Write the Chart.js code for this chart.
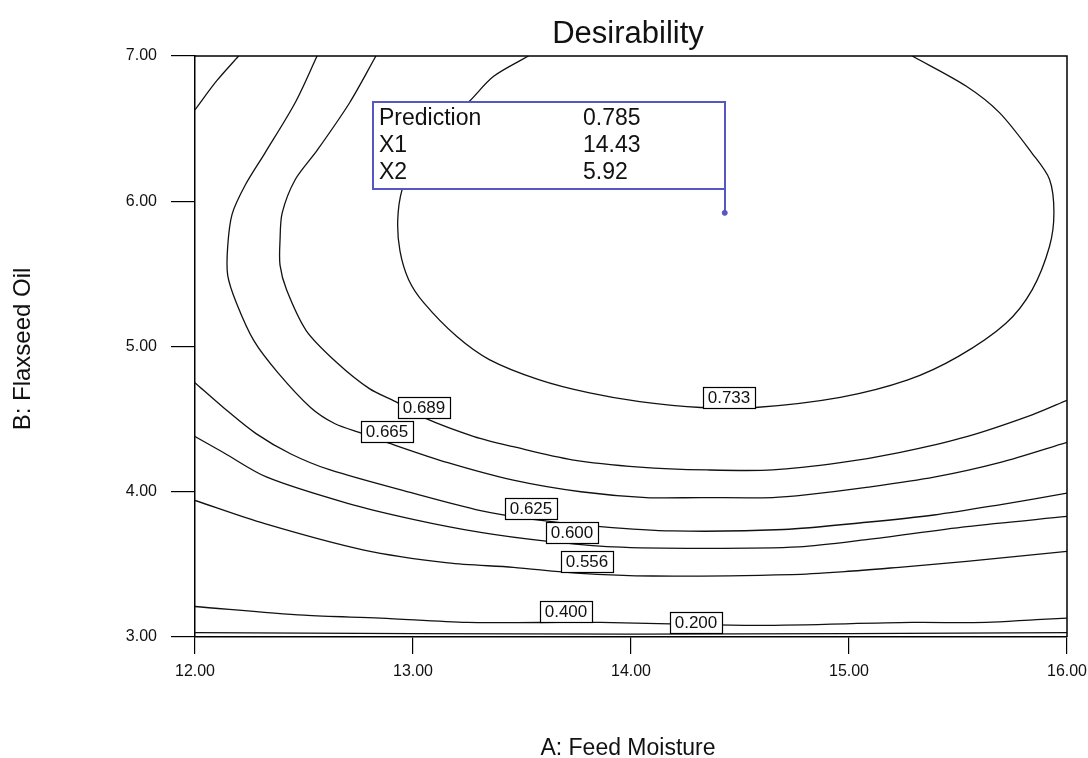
<!DOCTYPE html>
<html>
<head>
<meta charset="utf-8">
<title>Desirability</title>
<script src="https://cdn.jsdelivr.net/npm/chart.js@4.4.1/dist/chart.umd.min.js"></script>
<style>
  body { margin: 0; background: #fff; }
  canvas { display: block; }
</style>
</head>
<body>
<canvas id="chart" width="1088" height="758"></canvas>
<script>
// ------------------ values ------------------
const xTicks = [12, 13, 14, 15, 16];
const yTicks = [3, 4, 5, 6, 7];

// each contour is a path of [A: Feed Moisture, B: Flaxseed Oil] points
const contour733 = [[13.53,7.00],[13.37,6.86],[13.26,6.69],[13.12,6.49],[13.01,6.28],[12.95,6.08],[12.93,5.87],[12.94,5.66],[12.98,5.46],[13.05,5.30],[13.20,5.07],[13.35,4.91],[13.58,4.77],[13.81,4.68],[14.04,4.62],[14.32,4.58],[14.57,4.58],[14.96,4.65],[15.27,4.77],[15.50,4.93],[15.72,5.16],[15.84,5.39],[15.92,5.69],[15.94,5.92],[15.92,6.15],[15.84,6.33],[15.69,6.61],[15.54,6.79],[15.29,7.00]];
const contour689 = [[12.83,7.00],[12.71,6.68],[12.56,6.35],[12.46,6.15],[12.40,5.92],[12.39,5.73],[12.39,5.56],[12.42,5.39],[12.51,5.11],[12.65,4.89],[12.80,4.71],[12.92,4.62],[13.05,4.51],[13.28,4.38],[13.46,4.31],[13.73,4.22],[14.04,4.17],[14.35,4.15],[14.65,4.15],[14.96,4.20],[15.23,4.27],[15.54,4.38],[15.84,4.53],[16.00,4.63]];
const contour665 = [[12.56,7.00],[12.46,6.68],[12.32,6.33],[12.23,6.11],[12.17,5.91],[12.15,5.69],[12.15,5.49],[12.19,5.30],[12.27,5.04],[12.38,4.82],[12.53,4.58],[12.64,4.47],[12.77,4.40],[12.88,4.34],[13.16,4.20],[13.46,4.08],[13.77,4.00],[14.07,3.96],[14.32,3.96],[14.65,3.96],[14.81,3.98],[15.08,4.03],[15.39,4.10],[15.69,4.20],[16.00,4.34]];
const contour625 = [[12.00,4.75],[12.13,4.58],[12.28,4.40],[12.44,4.26],[12.62,4.15],[13.00,3.99],[13.31,3.87],[13.55,3.81],[13.86,3.76],[14.19,3.73],[14.70,3.74],[15.08,3.79],[15.39,3.84],[15.69,3.91],[16.00,3.99]];
const contour625Corner = [[12.20,7.00],[12.10,6.83],[12.00,6.63]];
const contour600 = [[12.00,4.38],[12.13,4.27],[12.33,4.10],[12.70,3.92],[13.00,3.81],[13.31,3.72],[13.61,3.66],[13.92,3.62],[14.32,3.61],[14.77,3.62],[15.08,3.67],[15.54,3.76],[16.00,3.83]];
const contour556 = [[12.00,3.94],[12.32,3.78],[12.77,3.60],[13.16,3.51],[13.46,3.48],[13.75,3.44],[14.10,3.42],[14.74,3.43],[14.98,3.45],[15.23,3.48],[15.54,3.52],[16.00,3.59]];
const contour400 = [[12.00,3.21],[12.50,3.15],[12.85,3.13],[13.25,3.10],[13.58,3.10],[13.86,3.10],[14.18,3.09],[14.59,3.08],[15.29,3.10],[15.63,3.10],[15.86,3.12],[16.00,3.13]];
const contour200 = [[12.00,3.03],[14.00,3.02],[16.00,3.03]];

// contour labels and the point on the line each one sits on
const labelLevels = ['0.733', '0.689', '0.665', '0.625', '0.600', '0.556', '0.400', '0.200'];
const labelAnchors = [[14.45,4.58],[13.05,4.51],[12.88,4.34],[13.54,3.81],[13.73,3.65],[13.80,3.45],[13.70,3.10],[14.30,3.03]];

// optimum flag
const predictionPoint = [14.43, 5.92];
const predictionNames = ['Prediction', 'X1', 'X2'];
const predictionValues = ['0.785', '14.43', '5.92'];

const FONT = 'Arial, "Liberation Sans", sans-serif';
const flagColor = '#5656c4';

function toXY(path) {
  return path.map(p => ({ x: p[0], y: p[1] }));
}

const contourPaths = [contour733, contour689, contour665, contour625, contour625Corner, contour600, contour556, contour400, contour200];

const datasets = contourPaths.map(path => ({
  data: toXY(path),
  showLine: true,
  borderColor: '#111',
  borderWidth: 1.3,
  pointRadius: 0,
  tension: 0.3,
  fill: false
}));
datasets.push({
  data: [{ x: predictionPoint[0], y: predictionPoint[1] }],
  showLine: false,
  pointRadius: 2.5,
  pointBackgroundColor: flagColor,
  pointBorderColor: flagColor
});

// ------------------ plugins ------------------
const frameAndTitles = {
  id: 'frameAndTitles',
  afterDraw(chart) {
    const { ctx, chartArea: a } = chart;
    ctx.save();
    // top and right frame
    ctx.strokeStyle = '#000';
    ctx.lineWidth = 1.5;
    ctx.beginPath();
    ctx.moveTo(a.left, a.top);
    ctx.lineTo(a.right, a.top);
    ctx.lineTo(a.right, a.bottom);
    ctx.stroke();

    ctx.fillStyle = '#111';
    ctx.textAlign = 'center';
    ctx.textBaseline = 'alphabetic';
    ctx.font = '31px ' + FONT;
    ctx.fillText('Desirability', 628, 43);
    ctx.font = '23px ' + FONT;
    ctx.fillText('A: Feed Moisture', 628, 755);
    ctx.translate(30, 349);
    ctx.rotate(-Math.PI / 2);
    ctx.font = '24px ' + FONT;
    ctx.fillText('B: Flaxseed Oil', 0, 0);
    ctx.restore();
  }
};

const contourLabels = {
  id: 'contourLabels',
  afterDatasetsDraw(chart) {
    const { ctx, scales: { x, y } } = chart;
    const w = 52, h = 21;
    ctx.save();
    ctx.font = '17px ' + FONT;
    ctx.textAlign = 'center';
    ctx.textBaseline = 'middle';
    labelLevels.forEach((txt, i) => {
      const px = Math.round(x.getPixelForValue(labelAnchors[i][0]));
      const py = Math.round(y.getPixelForValue(labelAnchors[i][1]));
      ctx.fillStyle = '#fff';
      ctx.fillRect(px - w / 2, py - h, w, h);
      ctx.strokeStyle = '#000';
      ctx.lineWidth = 1.2;
      ctx.strokeRect(px - w / 2 + 0.5, py - h + 0.5, w, h);
      ctx.fillStyle = '#111';
      ctx.fillText(txt, px, py - h / 2 + 1);
    });
    ctx.restore();
  }
};

const predictionFlag = {
  id: 'predictionFlag',
  afterDatasetsDraw(chart) {
    const { ctx, scales: { x, y } } = chart;
    const px = Math.round(x.getPixelForValue(predictionPoint[0]));
    const py = Math.round(y.getPixelForValue(predictionPoint[1]));
    const w = 352, h = 87, gap = 24;
    const left = px - w, top = py - gap - h;
    ctx.save();
    ctx.fillStyle = '#fff';
    ctx.fillRect(left, top, w, h);
    ctx.strokeStyle = flagColor;
    ctx.lineWidth = 2;
    ctx.strokeRect(left, top, w, h);
    ctx.beginPath();
    ctx.moveTo(px, top);
    ctx.lineTo(px, py);
    ctx.stroke();
    ctx.fillStyle = '#111';
    ctx.font = '23px ' + FONT;
    ctx.textAlign = 'left';
    ctx.textBaseline = 'middle';
    predictionNames.forEach((name, i) => {
      const ty = top + 17 + i * 27;
      ctx.fillText(name, left + 6, ty);
      ctx.fillText(predictionValues[i], left + 210, ty);
    });
    ctx.restore();
  }
};

// ------------------ chart ------------------
new Chart(document.getElementById('chart'), {
  type: 'scatter',
  data: { datasets: datasets },
  options: {
    responsive: false,
    animation: false,
    layout: { padding: { top: 56, right: 21, left: 0, bottom: 0 } },
    plugins: { legend: { display: false }, tooltip: { enabled: false } },
    scales: {
      x: {
        type: 'linear',
        min: 12,
        max: 16,
        afterBuildTicks: s => { s.ticks = xTicks.map(v => ({ value: v })); },
        afterFit: s => { s.height = 121; s.paddingLeft = 0; s.paddingRight = 0; },
        grid: { drawOnChartArea: false, drawTicks: true, tickLength: 17, color: '#000', lineWidth: 1.2 },
        border: { display: true, color: '#000', width: 1.5 },
        ticks: {
          autoSkip: false,
          maxRotation: 0,
          padding: 8,
          color: '#111',
          font: { family: FONT, size: 16 },
          callback: v => Number(v).toFixed(2)
        }
      },
      y: {
        type: 'linear',
        min: 3,
        max: 7,
        afterBuildTicks: s => { s.ticks = yTicks.map(v => ({ value: v })); },
        afterFit: s => { s.width = 195; s.paddingTop = 0; s.paddingBottom = 0; },
        grid: { drawOnChartArea: false, drawTicks: true, tickLength: 24, color: '#000', lineWidth: 1.2 },
        border: { display: true, color: '#000', width: 1.5 },
        ticks: {
          autoSkip: false,
          padding: 14,
          color: '#111',
          font: { family: FONT, size: 16 },
          callback: v => Number(v).toFixed(2)
        }
      }
    }
  },
  plugins: [contourLabels, predictionFlag, frameAndTitles]
});
</script>
</body>
</html>
